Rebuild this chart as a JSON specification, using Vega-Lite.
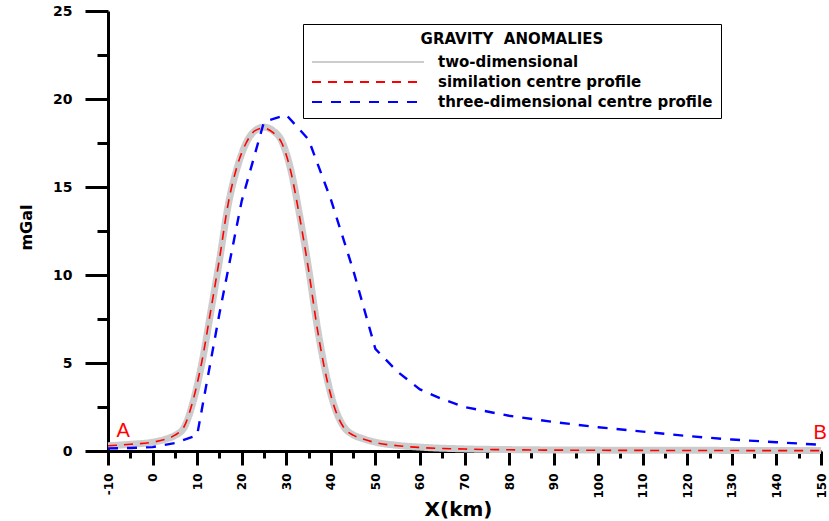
{
  "$schema": "https://vega.github.io/schema/vega-lite/v6.json",
  "autosize": {"type": "none"},
  "width": 713,
  "height": 440,
  "padding": {"left": 108, "top": 11, "right": 8, "bottom": 70},
  "background": "white",
  "config": {"view": {"stroke": null}},
  "datasets": {
    "curves": [
      {"x": -10, "y": 0.3, "series": "two-dimensional"},
      {"x": -5, "y": 0.38, "series": "two-dimensional"},
      {"x": 0, "y": 0.5, "series": "two-dimensional"},
      {"x": 3, "y": 0.68, "series": "two-dimensional"},
      {"x": 5, "y": 0.88, "series": "two-dimensional"},
      {"x": 7, "y": 1.3, "series": "two-dimensional"},
      {"x": 9, "y": 2.7, "series": "two-dimensional"},
      {"x": 11, "y": 4.9, "series": "two-dimensional"},
      {"x": 13, "y": 7.8, "series": "two-dimensional"},
      {"x": 15, "y": 10.8, "series": "two-dimensional"},
      {"x": 17, "y": 14.0, "series": "two-dimensional"},
      {"x": 19, "y": 16.1, "series": "two-dimensional"},
      {"x": 21, "y": 17.5, "series": "two-dimensional"},
      {"x": 23, "y": 18.2, "series": "two-dimensional"},
      {"x": 25, "y": 18.4, "series": "two-dimensional"},
      {"x": 27, "y": 18.2, "series": "two-dimensional"},
      {"x": 29, "y": 17.6, "series": "two-dimensional"},
      {"x": 31, "y": 16.0, "series": "two-dimensional"},
      {"x": 33, "y": 13.4, "series": "two-dimensional"},
      {"x": 35, "y": 10.4, "series": "two-dimensional"},
      {"x": 37, "y": 7.0, "series": "two-dimensional"},
      {"x": 39, "y": 4.3, "series": "two-dimensional"},
      {"x": 41, "y": 2.4, "series": "two-dimensional"},
      {"x": 43, "y": 1.35, "series": "two-dimensional"},
      {"x": 45, "y": 0.92, "series": "two-dimensional"},
      {"x": 47, "y": 0.72, "series": "two-dimensional"},
      {"x": 50, "y": 0.5, "series": "two-dimensional"},
      {"x": 55, "y": 0.32, "series": "two-dimensional"},
      {"x": 60, "y": 0.22, "series": "two-dimensional"},
      {"x": 70, "y": 0.12, "series": "two-dimensional"},
      {"x": 80, "y": 0.08, "series": "two-dimensional"},
      {"x": 100, "y": 0.05, "series": "two-dimensional"},
      {"x": 150, "y": 0.03, "series": "two-dimensional"},
      {"x": -10, "y": 0.3, "series": "similation centre profile"},
      {"x": -5, "y": 0.38, "series": "similation centre profile"},
      {"x": 0, "y": 0.5, "series": "similation centre profile"},
      {"x": 3, "y": 0.68, "series": "similation centre profile"},
      {"x": 5, "y": 0.9, "series": "similation centre profile"},
      {"x": 7, "y": 1.35, "series": "similation centre profile"},
      {"x": 9, "y": 2.8, "series": "similation centre profile"},
      {"x": 11, "y": 5.0, "series": "similation centre profile"},
      {"x": 13, "y": 7.9, "series": "similation centre profile"},
      {"x": 15, "y": 10.9, "series": "similation centre profile"},
      {"x": 17, "y": 14.1, "series": "similation centre profile"},
      {"x": 19, "y": 16.2, "series": "similation centre profile"},
      {"x": 21, "y": 17.5, "series": "similation centre profile"},
      {"x": 23, "y": 18.2, "series": "similation centre profile"},
      {"x": 25, "y": 18.35, "series": "similation centre profile"},
      {"x": 27, "y": 18.1, "series": "similation centre profile"},
      {"x": 29, "y": 17.5, "series": "similation centre profile"},
      {"x": 31, "y": 15.9, "series": "similation centre profile"},
      {"x": 33, "y": 13.3, "series": "similation centre profile"},
      {"x": 35, "y": 10.3, "series": "similation centre profile"},
      {"x": 37, "y": 6.9, "series": "similation centre profile"},
      {"x": 39, "y": 4.2, "series": "similation centre profile"},
      {"x": 41, "y": 2.35, "series": "similation centre profile"},
      {"x": 43, "y": 1.3, "series": "similation centre profile"},
      {"x": 45, "y": 0.9, "series": "similation centre profile"},
      {"x": 47, "y": 0.7, "series": "similation centre profile"},
      {"x": 50, "y": 0.48, "series": "similation centre profile"},
      {"x": 55, "y": 0.3, "series": "similation centre profile"},
      {"x": 60, "y": 0.2, "series": "similation centre profile"},
      {"x": 70, "y": 0.11, "series": "similation centre profile"},
      {"x": 80, "y": 0.07, "series": "similation centre profile"},
      {"x": 100, "y": 0.04, "series": "similation centre profile"},
      {"x": 150, "y": 0.02, "series": "similation centre profile"},
      {"x": -10, "y": 0.15, "series": "three-dimensional centre profile"},
      {"x": -5, "y": 0.17, "series": "three-dimensional centre profile"},
      {"x": 0, "y": 0.22, "series": "three-dimensional centre profile"},
      {"x": 5, "y": 0.45, "series": "three-dimensional centre profile"},
      {"x": 10, "y": 0.9, "series": "three-dimensional centre profile"},
      {"x": 15, "y": 7.8, "series": "three-dimensional centre profile"},
      {"x": 20, "y": 14.2, "series": "three-dimensional centre profile"},
      {"x": 25, "y": 18.7, "series": "three-dimensional centre profile"},
      {"x": 30, "y": 19.1, "series": "three-dimensional centre profile"},
      {"x": 35, "y": 17.7, "series": "three-dimensional centre profile"},
      {"x": 40, "y": 14.3, "series": "three-dimensional centre profile"},
      {"x": 45, "y": 10.3, "series": "three-dimensional centre profile"},
      {"x": 50, "y": 5.8, "series": "three-dimensional centre profile"},
      {"x": 55, "y": 4.5, "series": "three-dimensional centre profile"},
      {"x": 60, "y": 3.5, "series": "three-dimensional centre profile"},
      {"x": 65, "y": 2.95, "series": "three-dimensional centre profile"},
      {"x": 70, "y": 2.5, "series": "three-dimensional centre profile"},
      {"x": 80, "y": 2.0, "series": "three-dimensional centre profile"},
      {"x": 90, "y": 1.65, "series": "three-dimensional centre profile"},
      {"x": 100, "y": 1.35, "series": "three-dimensional centre profile"},
      {"x": 110, "y": 1.1, "series": "three-dimensional centre profile"},
      {"x": 120, "y": 0.85, "series": "three-dimensional centre profile"},
      {"x": 130, "y": 0.65, "series": "three-dimensional centre profile"},
      {"x": 140, "y": 0.5, "series": "three-dimensional centre profile"},
      {"x": 150, "y": 0.35, "series": "three-dimensional centre profile"}
    ],
    "points": [
      {"x": -6.6, "y": 1.15, "label": "A"},
      {"x": 149.8, "y": 1.0, "label": "B"}
    ]
  },
  "encoding": {
    "x": {
      "field": "x", "type": "quantitative",
      "scale": {"domain": [-10, 150], "nice": false, "zero": false},
      "axis": {
        "title": "X(km)",
        "values": [-10,-5,0,5,10,15,20,25,30,35,40,45,50,55,60,65,70,75,80,85,90,95,100,105,110,115,120,125,130,135,140,145,150],
        "labelExpr": "datum.value % 10 === 0 ? '' + datum.value : ''",
        "tickSize": {"condition": {"test": "datum.value % 10 === 0", "value": 14}, "value": 7},
        "tickWidth": 3, "tickColor": "black",
        "domainColor": "black", "domainWidth": 3,
        "labelAngle": -90, "labelFont": "DejaVu Sans", "labelFontWeight": "bold", "labelFontSize": 12,
        "labelColor": "black", "labelPadding": 8, "labelOverlap": false,
        "titleFont": "DejaVu Sans", "titleFontSize": 20, "titleFontWeight": "bold", "titleColor": "black",
        "titleX": 350, "titleY": 58, "titleBaseline": "middle", "grid": false
      }
    },
    "y": {
      "field": "y", "type": "quantitative",
      "scale": {"domain": [0, 25], "nice": false},
      "axis": {
        "title": "mGal",
        "values": [0,2.5,5,7.5,10,12.5,15,17.5,20,22.5,25],
        "labelExpr": "datum.value % 5 === 0 ? '' + datum.value : ''",
        "tickSize": {"condition": {"test": "datum.value % 5 === 0", "value": 23}, "value": 11},
        "tickWidth": 3, "tickColor": "black",
        "domainColor": "black", "domainWidth": 3,
        "labelFont": "DejaVu Sans", "labelFontWeight": "bold", "labelFontSize": 14,
        "labelColor": "black", "labelPadding": 13, "labelOverlap": false,
        "titleFont": "DejaVu Sans", "titleFontSize": 16, "titleFontWeight": "bold", "titleColor": "black",
        "titleX": -82, "titleY": 216, "titleBaseline": "middle", "grid": false
      }
    }
  },
  "layer": [
    {
      "data": {"name": "curves"},
      "transform": [{"filter": "datum.series === 'two-dimensional'"}],
      "mark": {"type": "line", "strokeWidth": 7, "interpolate": "monotone", "opacity": 1},
      "encoding": {
        "color": {"field": "series", "type": "nominal",
          "scale": {"domain": ["two-dimensional", "similation centre profile", "three-dimensional centre profile"], "range": ["#cccccc", "#ff0000", "#0000ff"]},
          "legend": {
            "orient": "none", "legendX": 195, "legendY": 13,
            "title": "GRAVITY\u00a0 ANOMALIES", "titleAnchor": "middle", "titleLimit": 600,
            "titleFont": "DejaVu Sans", "titleFontSize": 15, "titleFontWeight": "bold", "titleColor": "black",
            "labelFont": "DejaVu Sans", "labelFontSize": 15, "labelFontWeight": "bold", "labelColor": "black",
            "labelLimit": 600,
            "strokeColor": "black", "padding": 8,
            "symbolType": "M-1,0H15", "symbolSize": 196, "labelOffset": 111,
            "symbolStrokeWidth": 2, "rowPadding": 4, "titlePadding": 7,
            "encode": {
              "symbols": {"update": {"strokeWidth": {"signal": "datum.value === 'two-dimensional' ? 4 : 2"}}},
              "title": {"update": {"dy": {"value": 4}, "dx": {"value": 25}}}
            }
          }
        },
        "strokeDash": {"field": "series", "type": "nominal",
          "scale": {"domain": ["two-dimensional", "similation centre profile", "three-dimensional centre profile"], "range": [[1, 0], [9, 7], [10, 9]]}
        }
      }
    },
    {
      "data": {"name": "curves"},
      "transform": [{"filter": "datum.series === 'similation centre profile'"}],
      "mark": {"type": "line", "strokeWidth": 1.6, "interpolate": "monotone"},
      "encoding": {
        "color": {"field": "series", "type": "nominal"},
        "strokeDash": {"field": "series", "type": "nominal"}
      }
    },
    {
      "data": {"name": "curves"},
      "transform": [{"filter": "datum.series === 'three-dimensional centre profile'"}],
      "mark": {"type": "line", "strokeWidth": 2.4, "interpolate": "linear"},
      "encoding": {
        "color": {"field": "series", "type": "nominal"},
        "strokeDash": {"field": "series", "type": "nominal"}
      }
    },
    {
      "data": {"name": "points"},
      "mark": {"type": "text", "font": "Liberation Sans", "fontSize": 20, "color": "#ff0000", "align": "center", "baseline": "middle"},
      "encoding": {
        "text": {"field": "label", "type": "nominal"}
      }
    }
  ]
}
